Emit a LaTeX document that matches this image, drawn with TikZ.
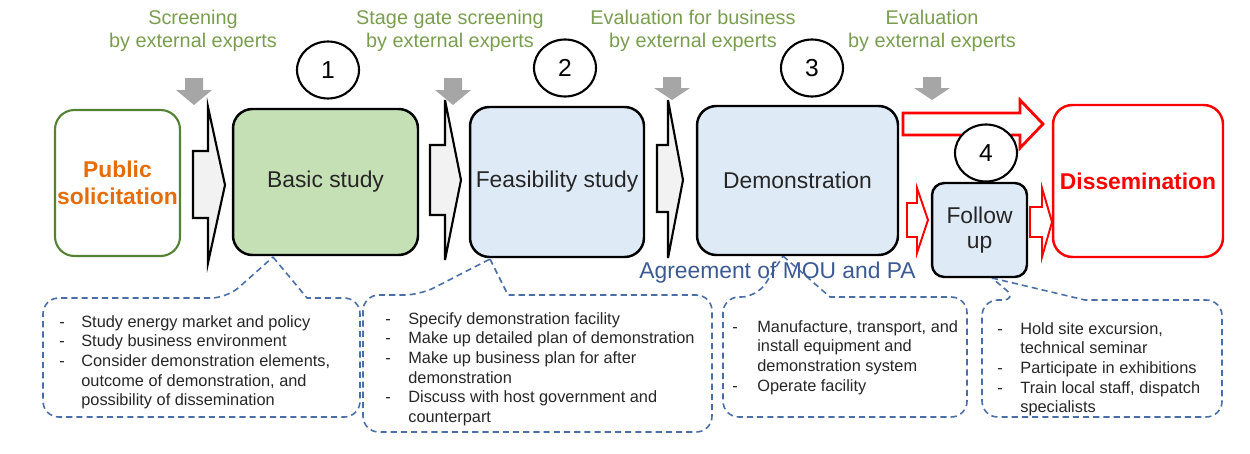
\documentclass[tikz,border=0pt]{standalone}
\usepackage{fontspec}
\setmainfont{Liberation Sans}
\usetikzlibrary{shapes.geometric}
\definecolor{lblgreen}{HTML}{7A9E4F}
\definecolor{pubgreen}{HTML}{548235}
\definecolor{puborange}{HTML}{E46C0A}
\definecolor{bgreen}{HTML}{C5E0B4}
\definecolor{lblue}{HTML}{DEEBF7}
\definecolor{dblue}{HTML}{3B5A94}
\definecolor{cblue}{HTML}{4A6EA8}
\definecolor{agray}{HTML}{A6A6A6}
\definecolor{afill}{HTML}{F2F2F2}
\definecolor{rred}{HTML}{FF0000}
\begin{document}
\begin{tikzpicture}[x=0.02cm,y=-0.02cm,
  box/.style={draw=black, line width=1.4pt, rounded corners=11pt, inner sep=0pt, align=center,
    font=\fontsize{13}{14.5}\selectfont, text=black!85},
  num/.style={ellipse, draw=black, line width=1.2pt, fill=white, minimum width=1.24cm, minimum height=1.14cm,
    inner sep=0pt, font=\fontsize{14}{16}\selectfont},
  lbl/.style={align=center, text=lblgreen, inner sep=0pt, font=\fontsize{11.3}{13.1}\selectfont},
  downarr/.style={fill=agray, draw=none},
  blockarr/.style={fill=afill, draw=black, line width=1.2pt, line join=miter},
  redarr/.style={fill=white, draw=rred, line join=miter},
  callout/.style={draw=cblue, line width=0.9pt, dash pattern=on 3.5pt off 2.3pt},
  ctext/.style={anchor=north west, inner sep=0pt, text=black!85, font=\fontsize{9.3}{11.2}\selectfont}
]
\useasboundingbox (0,0) rectangle (1250,453);

% top labels
\node[lbl] (l1) at (193,31) {Screening\\by external experts};
\node[lbl] (l2) at (450,31) {Stage gate screening\\by external experts};
\node[lbl] (l3) at (693,31) {Evaluation for business\\by external experts};
\node[lbl] (l4) at (932,31) {Evaluation\\by external experts};

% gray down arrows
\foreach \cx/\t/\hb/\tp in {194/78/90/105, 453/78/90/105, 672/77/88/100, 932/77/88/100}{
  \fill[downarr] (\cx-9,\t) -- (\cx+9,\t) -- (\cx+9,\hb) -- (\cx+18,\hb) -- (\cx,\tp) -- (\cx-18,\hb) -- (\cx-9,\hb) -- cycle;
}

% callouts
\draw[callout] (273,257) -- (307,298) [rounded corners=9pt] -- (360,298) -- (360,417) -- (43,417) -- (43,298) -- (227,298) [sharp corners] -- cycle;
\draw[callout] (490,259) -- (508,295) [rounded corners=9pt] -- (712,295) -- (712,432) -- (363,432) -- (363,295) -- (420,295) [sharp corners] -- cycle;
\draw[callout] (783,256) -- (830,297) [rounded corners=9pt] -- (967,297) -- (967,417) -- (723,417) -- (723,297) -- (757,297) [sharp corners] -- cycle;
\draw[callout] (992,278) -- (1085,300) [rounded corners=9pt] -- (1222,300) -- (1222,417) -- (982,417) -- (982,300) -- (1018,300) [sharp corners] -- cycle;

% main boxes
\node[box, draw=pubgreen, line width=1.2pt, minimum width=2.5cm, minimum height=2.92cm, text=puborange,
  font=\fontsize{13}{15.5}\selectfont\bfseries] (pub) at (117.5,183) {Public\\solicitation};
\node[box, fill=bgreen, minimum width=3.7cm, minimum height=2.92cm] (basic) at (325.5,182) {Basic study};
\node[box, fill=lblue, minimum width=3.48cm, minimum height=3.0cm] (feas) at (557,182) {Feasibility study};
\node[box, fill=lblue, minimum width=4.02cm, minimum height=2.98cm] (demo) at (797.5,180.5) {Demonstration};
\node[box, fill=lblue, rounded corners=7pt, minimum width=1.9cm, minimum height=1.88cm] (follow) at (979.5,230) {Follow\\up};
\node[box, draw=rred, fill=white, minimum width=3.4cm, minimum height=3.04cm, text=rred,
  font=\fontsize{13}{15.5}\selectfont\bfseries] (diss) at (1138,181) {Dissemination};

% black block arrows
\draw[blockarr] (193,151) -- (208,151) -- (208,107) -- (225,185) -- (208,263) -- (208,218) -- (193,218) -- cycle;
\draw[blockarr] (430,145) -- (445,145) -- (445,100) -- (461,180) -- (445,260) -- (445,215) -- (430,215) -- cycle;
\draw[blockarr] (657,145) -- (668,145) -- (668,100) -- (683,180) -- (668,258) -- (668,212) -- (657,212) -- cycle;

% red arrows
\draw[redarr, line width=1.6pt] (903,113) -- (1020,113) -- (1020,100) -- (1043,124) -- (1020,148) -- (1020,135) -- (903,135) -- cycle;
\draw[redarr, line width=1.1pt] (907,203) -- (917,203) -- (917,188) -- (928,220) -- (917,253) -- (917,237) -- (907,237) -- cycle;
\draw[redarr, line width=1.1pt] (1030,207) -- (1042,207) -- (1042,188) -- (1052,222) -- (1042,257) -- (1042,237) -- (1030,237) -- cycle;

% numbers
\node[num] (n1) at (328,70) {1};
\node[num] (n2) at (565,68) {2};
\node[num] (n3) at (812,68) {3};
\node[num] (n4) at (986,153) {4};

% agreement text
\node[text=dblue, inner sep=0pt, font=\fontsize{13}{15}\selectfont] (agr) at (777.5,273) {Agreement of MOU and PA};

% callout texts
\node[ctext] (t1) at (59,313) {\begin{tabular}{@{}p{0.44cm}@{}l@{}}
-&Study energy market and policy\\
-&Study business environment\\
-&Consider demonstration elements,\\
&outcome of demonstration, and\\
&possibility of dissemination\end{tabular}};
\node[ctext] (t2) at (385,310) {\begin{tabular}{@{}p{0.46cm}@{}l@{}}
-&Specify demonstration facility\\
-&Make up detailed plan of demonstration\\
-&Make up business plan for after\\
&demonstration\\
-&Discuss with host government and\\
&counterpart\end{tabular}};
\node[ctext] (t3) at (732,318) {\begin{tabular}{@{}p{0.5cm}@{}l@{}}
-&Manufacture, transport, and\\
&install equipment and\\
&demonstration system\\
-&Operate facility\end{tabular}};
\node[ctext] (t4) at (997,320) {\begin{tabular}{@{}p{0.46cm}@{}l@{}}
-&Hold site excursion,\\
&technical seminar\\
-&Participate in exhibitions\\
-&Train local staff, dispatch\\
&specialists\end{tabular}};
\end{tikzpicture}
\end{document}
